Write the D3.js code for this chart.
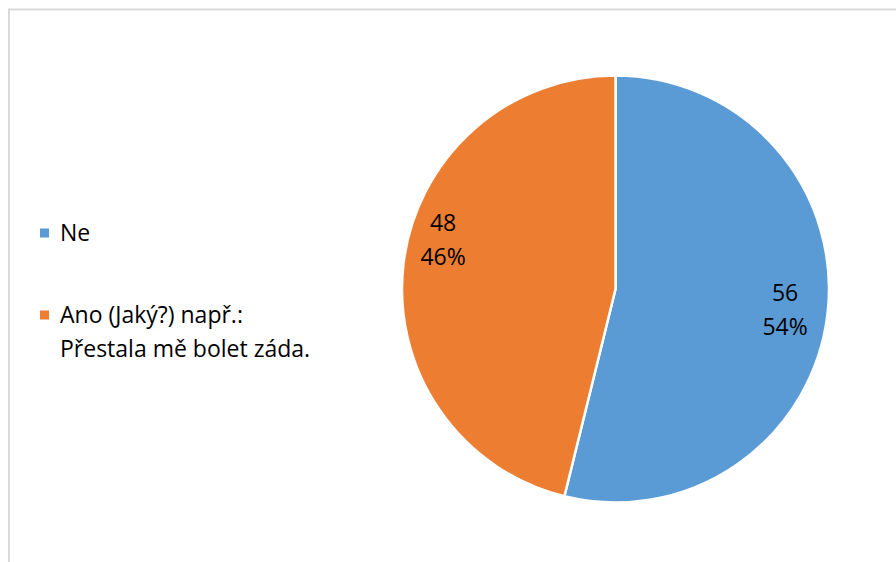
<!DOCTYPE html>
<html>
<head>
<meta charset="utf-8">
<script src="https://cdn.jsdelivr.net/npm/d3@7/dist/d3.min.js"></script>
<style>
  html, body { margin: 0; padding: 0; background: #fff; }
  svg { display: block; font-family: "Open Sans", "Noto Sans", sans-serif; }
</style>
</head>
<body>
<script>
// Responses to the survey question
const categories = ["Ne", "Ano (Jaký?) např.:\nPřestala mě bolet záda."];
const counts = [56, 48];
const percents = ["54%", "46%"];
const colors = ["#5B9BD5", "#ED7D31"];

const W = 896, H = 562;
const svg = d3.select("body").append("svg").attr("width", W).attr("height", H);

// chart frame (top and left edges visible)
svg.append("path")
  .attr("d", `M9,${H} L9,9.5 L${W},9.5`)
  .attr("fill", "none").attr("stroke", "#d9d9d9").attr("stroke-width", 2);

const cx = 615.5, cy = 289, R = 213.5;
const g = svg.append("g").attr("transform", `translate(${cx},${cy})`);

const data = categories.map((c, i) => ({ cat: c, value: counts[i], pct: percents[i], color: colors[i] }));
const pie = d3.pie().value(d => d.value).sort(null);
const arcs = pie(data);
const arc = d3.arc().innerRadius(0).outerRadius(R);

g.selectAll("path.slice").data(arcs).enter().append("path")
  .attr("class", "slice")
  .attr("d", arc)
  .attr("fill", d => d.data.color)
  .attr("stroke", "#fff").attr("stroke-width", 2.5).attr("stroke-linejoin", "round");

// data labels: value and share, placed inside each slice
const labelShift = [0, 0.157];   // angular nudge (radians) so labels sit clear of the slice edge
const labelR = [0.8, 0.84];
arcs.forEach((a, i) => {
  const mid = (a.startAngle + a.endAngle) / 2 + labelShift[i];
  const r = R * labelR[i];
  const x = Math.sin(mid) * r, y = -Math.cos(mid) * r;
  const t = g.append("text").attr("text-anchor", "middle").attr("fill", "#000").attr("font-size", 23);
  t.append("tspan").attr("x", x).attr("y", y - 9).text(a.data.value);
  t.append("tspan").attr("x", x).attr("y", y + 25).text(a.data.pct);
});

// legend
const legendY = [233, 315];
data.forEach((d, i) => {
  const lg = svg.append("g").attr("transform", `translate(40,${legendY[i]})`);
  lg.append("rect").attr("x", 0).attr("y", -4.5).attr("width", 9).attr("height", 9).attr("fill", d.color);
  const lines = d.cat.split("\n");
  const t = lg.append("text").attr("font-size", 23).attr("fill", "#000");
  lines.forEach((ln, j) => {
    t.append("tspan").attr("x", 20).attr("y", 8 + j * 34).text(ln);
  });
});
</script>
</body>
</html>
